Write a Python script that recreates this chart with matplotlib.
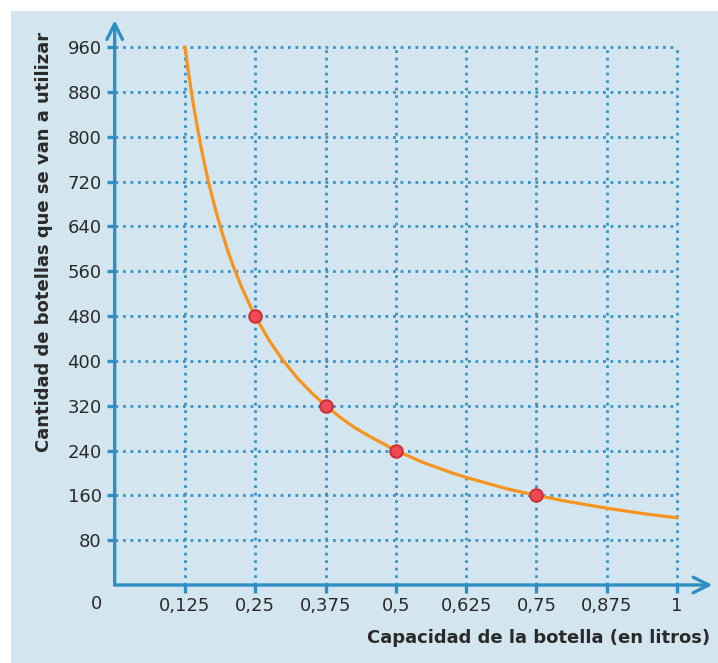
import matplotlib.pyplot as plt
from matplotlib.patches import Rectangle

plt.rcParams['font.family'] = ['DejaVu Sans']

# values
x_ticks = [0.125, 0.25, 0.375, 0.5, 0.625, 0.75, 0.875, 1]
x_labels = ['0,125', '0,25', '0,375', '0,5', '0,625', '0,75', '0,875', '1']
y_ticks = [80, 160, 240, 320, 400, 480, 560, 640, 720, 800, 880, 960]

curve_x = [0.125, 0.13, 0.135, 0.14, 0.145, 0.15, 0.155, 0.16, 0.165, 0.17, 0.18,
           0.19, 0.2, 0.21, 0.225, 0.24, 0.25, 0.26, 0.275, 0.29, 0.3, 0.325, 0.35,
           0.375, 0.4, 0.425, 0.45, 0.5, 0.55, 0.6, 0.625, 0.65, 0.7, 0.75, 0.8,
           0.875, 0.95, 1]
curve_y = [960, 923, 889, 857, 828, 800, 774, 750, 727, 706, 667,
           632, 600, 571, 533, 500, 480, 462, 436, 414, 400, 369, 343,
           320, 300, 282, 267, 240, 218, 200, 192, 185, 171, 160, 150,
           137, 126, 120]

pts_x = [0.25, 0.375, 0.5, 0.75]
pts_y = [480, 320, 240, 160]

blue = '#2f8fc3'
bg = '#d3e6f0'
txt = '#2a2a2a'

fig = plt.figure(figsize=(7.18, 6.63), dpi=100)
fig.patches.append(Rectangle((11/718, 0), 1, 1 - 11/663, transform=fig.transFigure,
                             facecolor=bg, edgecolor='none', zorder=-1))

ax = fig.add_axes([114.7/718, 78/663, 601.7/718, 568.8/663])
ax.set_facecolor('none')
ax.set_xlim(0, 1.07)
ax.set_ylim(0, 1015)
for s in ax.spines.values():
    s.set_visible(False)

dots = (0, (1, 1.7))
ax.hlines(y_ticks, 0, 1, colors='#3893c6', lw=2.0, linestyles=dots, zorder=1)
ax.vlines(x_ticks, 0, 960, colors='#3893c6', lw=2.0, linestyles=dots, zorder=1)

# axes with arrows
ax.annotate('', xy=(1.063, 0), xytext=(0, 0),
            arrowprops=dict(arrowstyle='->', lw=2.4, color=blue, mutation_scale=28,
                            shrinkA=0, shrinkB=0), zorder=3)
ax.annotate('', xy=(0, 1008), xytext=(0, 0),
            arrowprops=dict(arrowstyle='->', lw=2.4, color=blue, mutation_scale=28,
                            shrinkA=0, shrinkB=0), zorder=3)

ax.plot(curve_x, curve_y, color='#f7941d', lw=2.3, zorder=4)
ax.plot(pts_x, pts_y, 'o', ms=9, mfc='#ef4b55', mec='#c9303a', mew=1.5, zorder=5)

ax.set_xticks(x_ticks)
ax.set_xticklabels(x_labels)
ax.set_yticks(y_ticks)
ax.tick_params(axis='both', colors=blue, width=2.4, length=6, direction='out',
               labelcolor=txt, labelsize=13)
ax.tick_params(axis='x', pad=2.5)
ax.tick_params(axis='y', pad=3.5)

fig.text(97/718, 1 - 604/663, '0', ha='center', va='center', color=txt, fontsize=13)
fig.text(710/718, 1 - 638/663, 'Capacidad de la botella (en litros)', ha='right',
         va='center', color=txt, fontsize=13, fontweight='bold')
fig.text(44/718, 1 - 242/663, 'Cantidad de botellas que se van a utilizar', ha='center',
         va='center', rotation=90, color=txt, fontsize=13, fontweight='bold')

fig.savefig('out.png', dpi=100)
